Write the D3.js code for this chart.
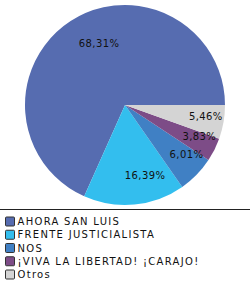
<!DOCTYPE html>
<html>
<head>
<meta charset="utf-8">
<script src="https://cdn.jsdelivr.net/npm/d3@7"></script>
<style>
body { margin: 0; background: #fff; }
svg { display: block; }
</style>
</head>
<body>
<div id="chart"></div>
<script>
//Data
var parties = ["AHORA SAN LUIS", "FRENTE JUSTICIALISTA", "NOS", "¡VIVA LA LIBERTAD! ¡CARAJO!", "Otros"];
var shares = [68.31, 16.39, 6.01, 3.83, 5.46];
var shareLabels = ["68,31%", "16,39%", "6,01%", "3,83%", "5,46%"];
var colors = ["#566CB0", "#33BEEE", "#4080C4", "#7D4C87", "#D4D4D4"];

//Sizes
var width = 250;
var height = 285;
var cx = 125;
var cy = 105;
var radius = 100;
var legendTop = 221.5;
var rowH = 13.25;

var svg = d3.select("#chart").append("svg")
    .attr("width", width)
    .attr("height", height);

//Pie goes counterclockwise starting at 3 o'clock
var pie = d3.pie()
    .sort(null)
    .startAngle(Math.PI / 2)
    .endAngle(Math.PI / 2 - 2 * Math.PI)
    .value(function (d) { return d; });

var arcs = pie(shares);
var arc = d3.arc().innerRadius(0).outerRadius(radius);
var labelArc = d3.arc().innerRadius(radius * 0.72).outerRadius(radius * 0.72);

var g = svg.append("g").attr("transform", "translate(" + cx + "," + cy + ")");

g.selectAll("path")
    .data(arcs)
    .enter().append("path")
    .attr("d", arc)
    .attr("fill", function (d, i) { return colors[i]; });

//Labels start a little left of the slice centroid
g.selectAll("text")
    .data(arcs)
    .enter().append("text")
    .attr("transform", function (d) { return "translate(" + labelArc.centroid(d) + ")"; })
    .attr("dx", -7)
    .attr("dy", "0.25em")
    .attr("font-family", "DejaVu Sans")
    .attr("font-size", 10)
    .attr("letter-spacing", 0.4)
    .attr("fill", "#111")
    .text(function (d, i) { return shareLabels[i]; });

//Separator above legend
svg.append("line")
    .attr("x1", 0).attr("x2", width)
    .attr("y1", 209.5).attr("y2", 209.5)
    .attr("stroke", "#222")
    .attr("stroke-width", 1);

//Legend
var legend = svg.selectAll(".legend")
    .data(parties)
    .enter().append("g")
    .attr("class", "legend")
    .attr("transform", function (d, i) { return "translate(0," + (legendTop + i * rowH) + ")"; });

legend.append("rect")
    .attr("x", 5.5).attr("y", -4.5)
    .attr("width", 9).attr("height", 9)
    .attr("rx", 1)
    .attr("fill", function (d, i) { return colors[i]; })
    .attr("stroke", "#333");

legend.append("text")
    .attr("x", 17.5)
    .attr("dy", "0.36em")
    .attr("font-family", "DejaVu Sans")
    .attr("font-size", 10)
    .attr("letter-spacing", 1.3)
    .attr("fill", "#111")
    .text(function (d) { return d; });
</script>
</body>
</html>
